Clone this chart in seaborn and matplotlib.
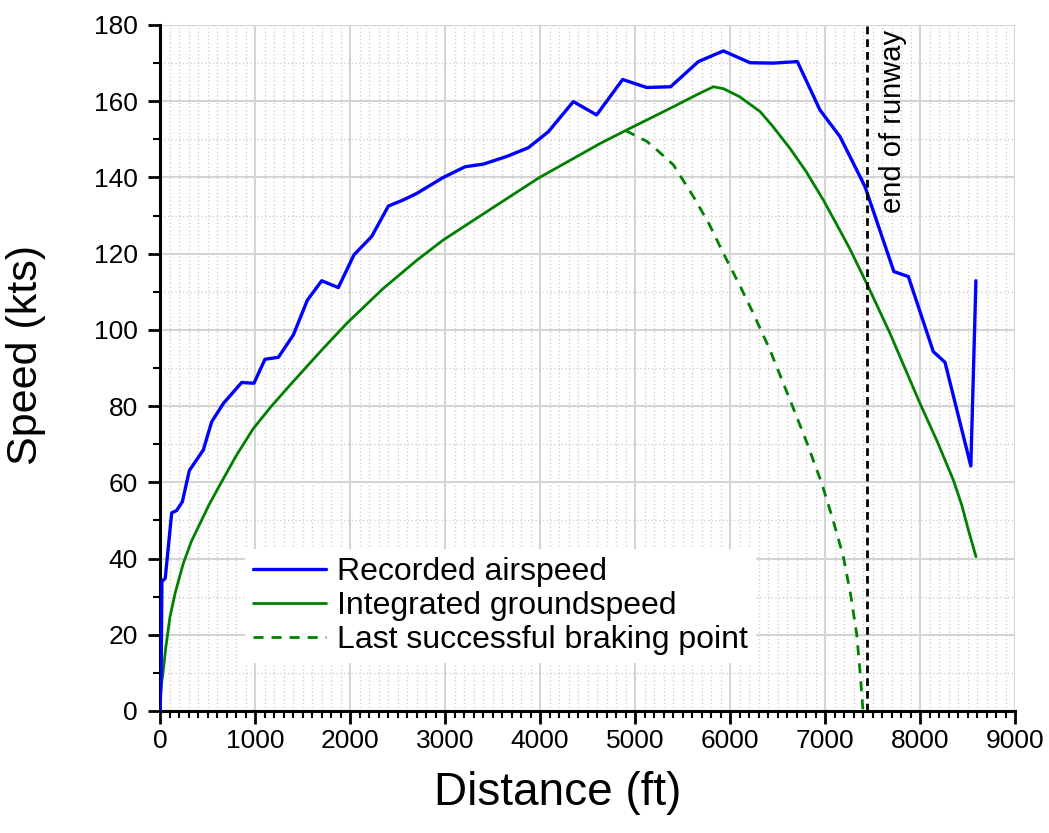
import matplotlib
matplotlib.use("Agg")
import matplotlib.pyplot as plt
import seaborn as sns
from matplotlib.ticker import MultipleLocator

# Recorded airspeed along the runway
air_dist = [0, 12, 20, 55, 123, 175, 235, 309, 456, 544, 667, 860, 989, 1105, 1246,
            1404, 1551, 1702, 1877, 2042, 2228, 2404, 2561, 2702, 2982, 3211, 3404,
            3649, 3877, 4088, 4351, 4596, 4870, 5123, 5375, 5667, 5930, 6211, 6456,
            6709, 6947, 7158, 7421, 7725, 7877, 8140, 8263, 8535, 8580, 8588]
air_speed = [0, 10, 34.0, 34.8, 52.0, 52.6, 54.9, 63.1, 68.5, 75.9, 80.7, 86.2, 86.0,
             92.3, 92.8, 98.7, 107.8, 112.9, 111.1, 119.7, 124.5, 132.5, 134.1, 135.8,
             140.0, 142.8, 143.5, 145.5, 147.8, 152.0, 159.9, 156.4, 165.7, 163.6,
             163.8, 170.4, 173.2, 170.1, 170.0, 170.4, 157.7, 150.7, 137.6, 115.3,
             114.0, 94.3, 91.5, 64.3, 105.0, 112.9]

# Groundspeed obtained by integration
gs_dist = [0, 8, 20, 35, 60, 105, 160, 245, 330, 421, 520, 632, 800, 982, 1170,
           1368, 1491, 1702, 1965, 2351, 2700, 2982, 3500, 3982, 4632, 4900, 5400,
           5650, 5825, 5930, 6100, 6316, 6450, 6632, 6800, 6982, 7120, 7263, 7456,
           7684, 7842, 8000, 8180, 8351, 8440, 8509, 8589]
gs_speed = [0, 5.0, 8.0, 10.8, 16.5, 24.7, 31.0, 38.7, 44.5, 49.2, 54.3, 59.4, 66.9,
            74.1, 79.9, 85.5, 88.9, 94.7, 101.7, 110.9, 118.2, 123.6, 132.0, 139.8,
            148.9, 152.3, 158.5, 161.7, 163.8, 163.3, 161.2, 157.3, 153.4, 147.6,
            141.6, 134.1, 127.8, 121.2, 111.3, 99.1, 89.9, 80.7, 70.8, 60.6, 54.0,
            47.5, 40.5]

# Deceleration profile from the last point where braking would still stop the aircraft
brake_dist = [4900, 5123, 5250, 5404, 5614, 5780, 5930, 6100, 6246, 6421, 6632, 6800,
              6965, 7080, 7193, 7270, 7333, 7370, 7400]
brake_speed = [152.3, 149.5, 146.8, 143.3, 135.0, 127.8, 120.1, 111.8, 104.3, 94.7,
               81.6, 71.0, 59.8, 50.5, 40.5, 30.5, 20.3, 10.0, 0]

runway_end = 7440

sns.set_style("white")
plt.rcParams['font.family'] = ['Liberation Sans', 'DejaVu Sans']
plt.rcParams.update({'text.color': 'black', 'axes.labelcolor': 'black',
                     'xtick.color': 'black', 'ytick.color': 'black'})

fig = plt.figure(figsize=(10.49, 8.33), dpi=100)
ax = fig.add_axes([0.15253, 0.14646, 0.81506, 0.82353])

sns.lineplot(x=air_dist, y=air_speed, ax=ax, color='#0000ff', lw=2.4,
             sort=False, estimator=None, label='Recorded airspeed', zorder=4)
sns.lineplot(x=gs_dist, y=gs_speed, ax=ax, color='#008000', lw=2.0,
             sort=False, estimator=None, label='Integrated groundspeed', zorder=3)
sns.lineplot(x=brake_dist, y=brake_speed, ax=ax, color='#008000', lw=2.0,
             sort=False, estimator=None, label='Last successful braking point',
             zorder=3)
ax.lines[-1].set_linestyle((0, (3.6, 2.9)))

ax.axvline(runway_end, color='black', lw=2.0, ls=(0, (2.8, 1.8)), zorder=5)
ax.text(7716, 178.8, 'end of runway', rotation=90, ha='center', va='top',
        fontsize=21, color='black')

ax.set_xlim(0, 9000)
ax.set_ylim(0, 180)
ax.xaxis.set_major_locator(MultipleLocator(1000))
ax.xaxis.set_minor_locator(MultipleLocator(100))
ax.yaxis.set_major_locator(MultipleLocator(20))
ax.yaxis.set_minor_locator(MultipleLocator(10))

ax.grid(which='major', color='#d4d4d4', lw=1.5, ls='-', zorder=0)
ax.grid(which='minor', color='#c8c8c8', lw=1.0, ls=(0, (0.8, 1.9)), zorder=0)
ax.set_axisbelow(True)

for side in ('top', 'right'):
    ax.spines[side].set_visible(False)
for side in ('left', 'bottom'):
    ax.spines[side].set_color('black')
    ax.spines[side].set_linewidth(2.2)

ax.tick_params(which='major', direction='out', length=9, width=2, color='black',
               labelsize=19, labelcolor='black', left=True, bottom=True)
ax.tick_params(axis='y', which='major', pad=7)
ax.tick_params(axis='x', which='major', pad=4)
ax.tick_params(which='minor', direction='out', length=5, width=1.5, color='black',
               left=True, bottom=True)

ax.set_xlabel('Distance (ft)', fontsize=33, color='black')
ax.set_ylabel('Speed (kts)', fontsize=31, color='black')
ax.xaxis.set_label_coords(0.4655, -0.088)
ax.yaxis.set_label_coords(-0.133, 0.519)

leg = ax.legend(loc='lower left', bbox_to_anchor=(0.099, 0.07), borderaxespad=0,
                fontsize=23, frameon=True, fancybox=False, framealpha=1,
                edgecolor='none', facecolor='white', handlelength=2.3,
                handletextpad=0.35, labelspacing=0.12, borderpad=0.25)
for t in leg.get_texts():
    t.set_color('black')

fig.savefig('out.png', dpi=100)
